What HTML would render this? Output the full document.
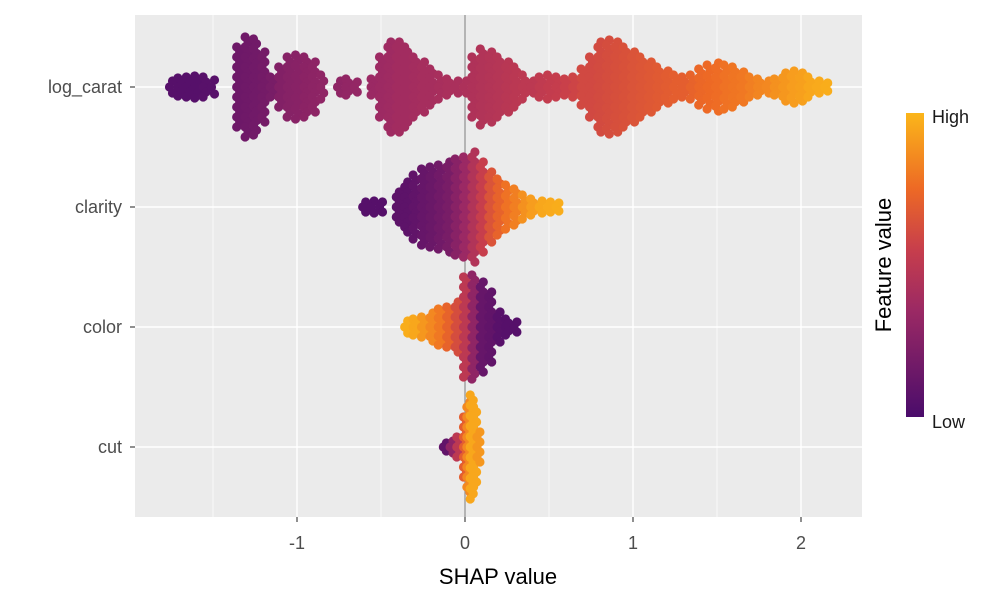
<!DOCTYPE html>
<html><head><meta charset="utf-8"><style>
body{margin:0;background:#fff;}
svg{display:block;font-family:"Liberation Sans",Arial,sans-serif;}
</style></head><body>
<svg id="chart" width="1002" height="604" viewBox="0 0 1002 604">
<defs><linearGradient id="cg" x1="0" y1="1" x2="0" y2="0">
<stop offset="0" stop-color="#4a0c6b"/><stop offset="0.35" stop-color="#9b2964"/><stop offset="0.55" stop-color="#c73e4c"/><stop offset="0.75" stop-color="#ed6925"/><stop offset="1" stop-color="#fbb61a"/></linearGradient></defs>
<rect x="135" y="15" width="727" height="502" fill="#EBEBEB"/>
<g id="grid"></g><g id="dots"></g><g id="axes"></g>
<rect x="906" y="113" width="18" height="304" fill="url(#cg)"/>
<text x="932" y="123" font-size="18" fill="#1a1a1a">High</text>
<text x="932" y="428" font-size="18" fill="#1a1a1a">Low</text>
<text transform="translate(891,265) rotate(-90)" text-anchor="middle" font-size="22" fill="#000">Feature value</text>
<text x="498" y="584" text-anchor="middle" font-size="22" fill="#000">SHAP value</text>
</svg>
<script>
const features = ["log_carat","clarity","color","cut"];
const xTicks = [-1,0,1,2];
const carX = [-1.75,-1.7,-1.65,-1.6,-1.55,-1.5,-1.35,-1.3,-1.25,-1.2,-1.15,-1.1,-1.05,-1,-0.95,-0.9,-0.85,-0.75,-0.7,-0.65,-0.55,-0.5,-0.45,-0.4,-0.35,-0.3,-0.25,-0.2,-0.15,-0.1,-0.05,0,0.05,0.1,0.15,0.2,0.25,0.3,0.35,0.4,0.45,0.5,0.55,0.6,0.65,0.7,0.75,0.8,0.85,0.9,0.95,1,1.05,1.1,1.15,1.2,1.25,1.3,1.35,1.4,1.45,1.5,1.55,1.6,1.65,1.7,1.75,1.8,1.85,1.9,1.95,2,2.05,2.1,2.15];
const carH = [6,9,10,11,10,7,40,50,48,35,10,20,30,32,30,25,12,6,8,5,8,30,45,45,40,30,25,18,12,8,6,6,30,38,35,30,25,20,12,6,10,12,10,8,10,18,30,45,47,45,40,35,30,25,20,16,12,10,12,18,22,24,22,20,15,10,8,6,8,14,16,14,10,6,4];
const carC = [0.05,0.05,0.05,0.05,0.06,0.06,0.15,0.16,0.17,0.18,0.2,0.24,0.26,0.27,0.28,0.29,0.3,0.3,0.31,0.32,0.35,0.36,0.37,0.38,0.38,0.39,0.4,0.4,0.41,0.42,0.42,0.43,0.44,0.45,0.46,0.47,0.48,0.49,0.5,0.5,0.52,0.53,0.54,0.56,0.58,0.6,0.6,0.61,0.62,0.63,0.64,0.65,0.66,0.67,0.68,0.69,0.7,0.7,0.72,0.74,0.75,0.76,0.78,0.79,0.8,0.82,0.84,0.85,0.88,0.9,0.92,0.93,0.95,0.96,0.97];
const claX = [-0.6,-0.55,-0.5,-0.4,-0.35,-0.3,-0.25,-0.2,-0.15,-0.1,-0.05,0,0.05,0.1,0.15,0.2,0.25,0.3,0.35,0.4,0.45,0.5,0.55];
const claH = [5,6,5,15,25,32,38,40,42,45,48,50,55,45,35,28,22,18,12,8,6,5,4];
const claC = [0.05,0.05,0.05,0.08,0.08,0.1,0.12,0.14,0.17,0.2,0.27,0.35,0.45,0.55,0.65,0.72,0.78,0.82,0.88,0.92,0.95,0.96,0.97];
const colX = [-0.35,-0.3,-0.25,-0.2,-0.15,-0.1,-0.05,0,0.05,0.1,0.15,0.2,0.25,0.3];
const colH = [6,8,10,14,18,20,25,50,52,45,35,15,8,5];
const colC = [0.97,0.95,0.9,0.85,0.8,0.72,0.62,0.5,0.3,0.12,0.1,0.06,0.05,0.05];
const cutX = [-0.12,-0.08,-0.04,0,0.02,0.04,0.06,0.08];
const cutH = [4,6,10,30,45,52,40,15];
const cutC = [0.1,0.3,0.5,0.7,0.85,0.95,0.95,0.9];
const rowsX=[carX,claX,colX,cutX], rowsH=[carH,claH,colH,cutH], rowsC=[carC,claC,colC,cutC];

const xS = v => 465 + v*168;
const yS = i => 87 + i*120;
const NS="http://www.w3.org/2000/svg";
function mk(t,a,p){const e=document.createElementNS(NS,t);for(const k in a)e.setAttribute(k,a[k]);p.appendChild(e);return e;}
const stops=[[0,[74,12,107]],[0.35,[155,41,100]],[0.55,[199,62,76]],[0.75,[237,105,37]],[1,[251,182,26]]];
function cmap(v){for(let i=1;i<stops.length;i++){if(v<=stops[i][0]){const a=stops[i-1],b=stops[i];const t=(v-a[0])/(b[0]-a[0]);return "rgb("+a[1].map((c,j)=>Math.round(c+(b[1][j]-c)*t)).join(",")+")";}}return "rgb(251,182,26)";}
const grid=document.getElementById('grid'), dots=document.getElementById('dots'), axes=document.getElementById('axes');
for(let i=0;i<xTicks.length;i++){
  const m=mk('line',{x1:xS(xTicks[i]-0.5),x2:xS(xTicks[i]-0.5),y1:15,y2:517,stroke:'#fff','stroke-width':0.7},grid);
  
  
  const g=mk('line',{x1:xS(xTicks[i]),x2:xS(xTicks[i]),y1:15,y2:517,stroke:'#fff','stroke-width':1.4},grid);
  
  
  const tk=mk('line',{x1:xS(xTicks[i]),x2:xS(xTicks[i]),y1:517,y2:522,stroke:'#333','stroke-width':1.1},axes);
  
  
  const tl=mk('text',{x:xS(xTicks[i]),y:549,'text-anchor':'middle','font-size':18,fill:'#4d4d4d'},axes);
  tl.textContent=xTicks[i];
  
  
}
{const m=mk('line',{x1:xS(2.5),x2:xS(2.5),y1:15,y2:517,stroke:'#fff','stroke-width':0.7},grid);

}
features.forEach((f,i)=>{
  const g=mk('line',{x1:135,x2:862,y1:yS(i),y2:yS(i),stroke:'#fff','stroke-width':1.4},grid);
  
  
  const tk=mk('line',{x1:130,x2:135,y1:yS(i),y2:yS(i),stroke:'#333','stroke-width':1.1},axes);
  
  
  const tl=mk('text',{x:122,y:yS(i)+6,'text-anchor':'end','font-size':18,fill:'#4d4d4d'},axes);
  tl.textContent=f;
  
  
});
{const z=mk('line',{x1:xS(0),x2:xS(0),y1:15,y2:517,stroke:'#999','stroke-width':1.4},grid);

}
features.forEach((f,i)=>{
  const grp=mk('g',{},dots);
  
  
  const X=rowsX[i],H=rowsH[i],C=rowsC[i];
  for(let k=0;k<X.length;k++){
    const h=H[k], n=Math.max(1,Math.round(h/5));
    for(let j=-n;j<=n;j++){
      const y=yS(i)+j*(h/n);
      const c=mk('circle',{cx:xS(X[k])+((j&1)?1.5:-1.5),cy:y,r:4.6,fill:cmap(C[k])},grp);
      
      
    }
  }
});
</script>
</body></html>
